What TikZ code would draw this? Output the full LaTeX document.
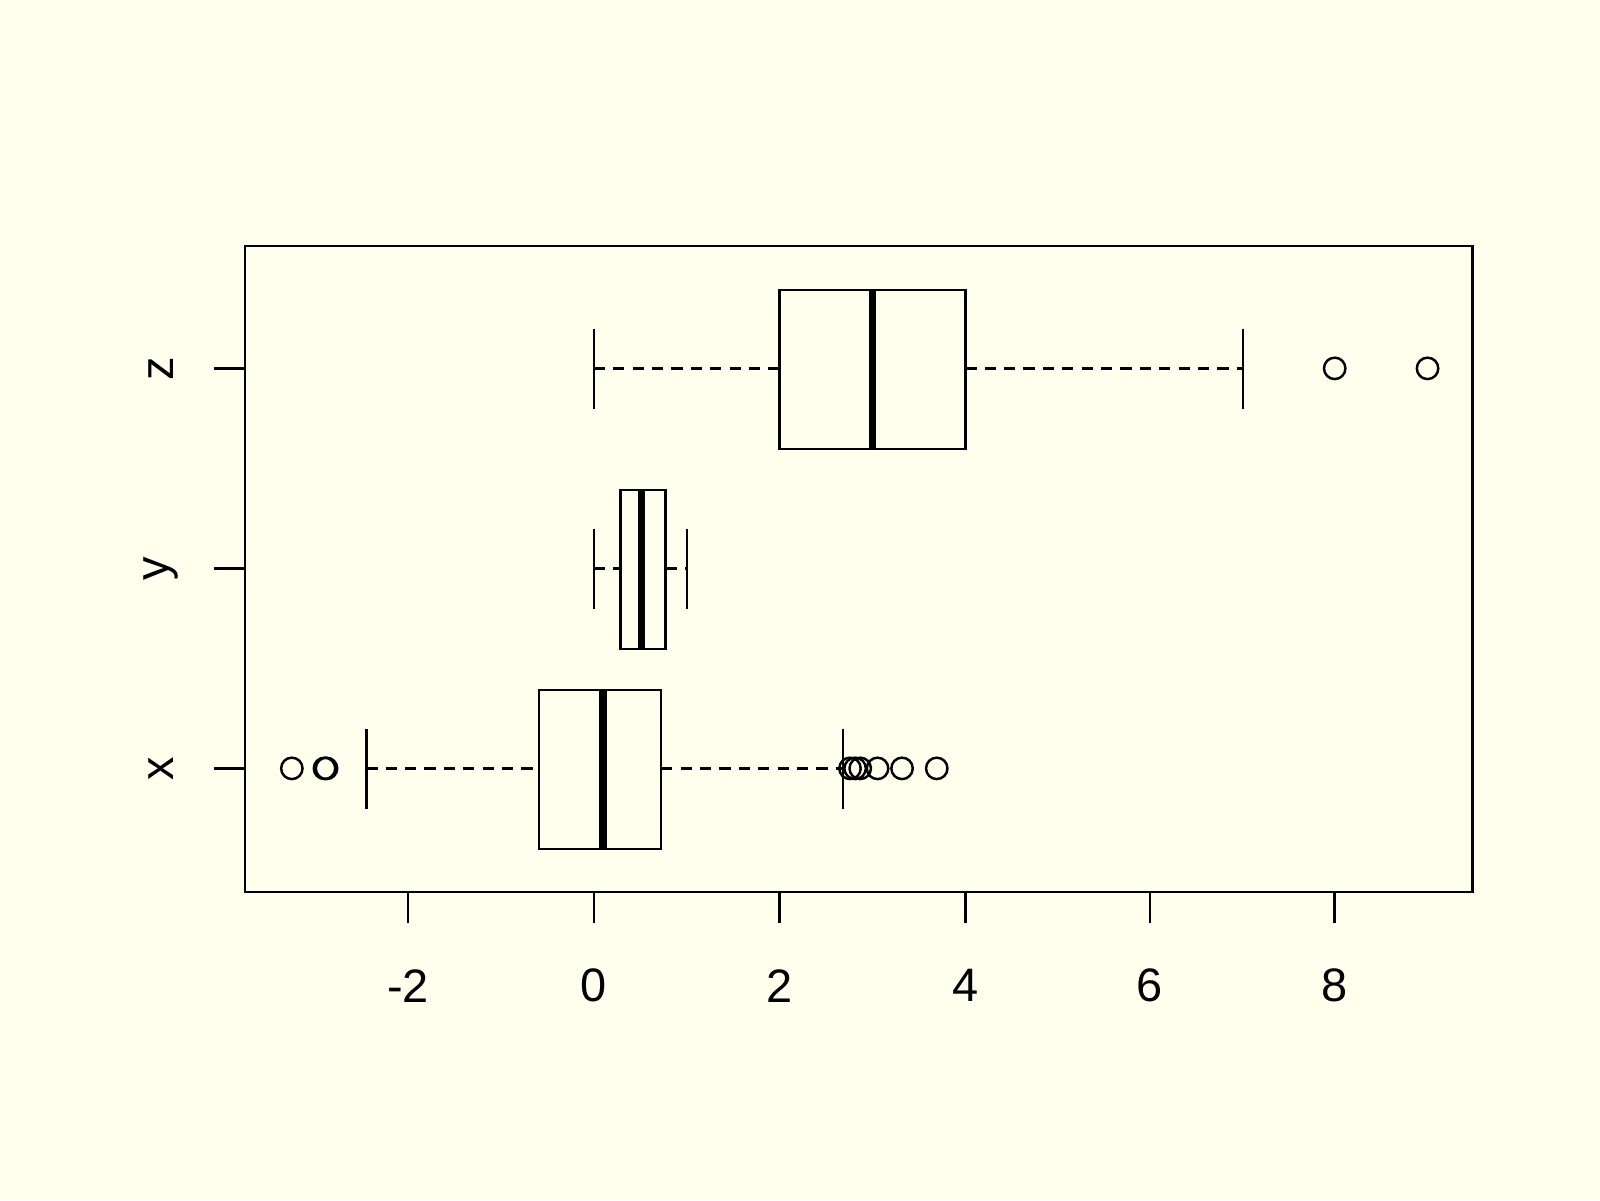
\documentclass[tikz,border=0pt]{standalone}
\usepackage{fontspec}
\setmainfont{Liberation Sans}
\definecolor{bg}{RGB}{255,255,238}
\begin{document}
\begin{tikzpicture}[x=1pt,y=-1pt,line width=2.4pt,
  lab/.style={font=\fontsize{46}{50}\selectfont,inner sep=0pt},
  wh/.style={dash pattern=on 11pt off 8pt},
  med/.style={line width=7pt},
  pt/.style={line width=2.4pt}]
\fill[bg] (0,0) rectangle (1568,1176);
\useasboundingbox (0,0) rectangle (1568,1176);
\draw (240,241) rectangle (1443,874);
% x axis
\foreach \v/\p in {-2/400,0/582,2/764,4/946,6/1127,8/1308}{
  \draw (\p,874) -- (\p,905);
  \node[lab] at (\p,966) {\v};
}
\foreach \n/\yy in {z/361,y/557,x/753}{
  \draw (240,\yy) -- (210,\yy);
  \node[lab,rotate=90] at (158,\yy) {\n};
}
% z
\draw[wh] (582,361) -- (764,361);
\draw[wh] (946,361) -- (1218,361);
\draw (582,322) -- (582,401);
\draw (1218,322) -- (1218,401);
\draw (764,284) rectangle (946,440);
\draw[med] (855,284) -- (855,440);
\foreach \p in {1308,1399} \draw[pt] (\p,361) circle (10.5);
% y
\draw[wh] (582,557) -- (608,557);
\draw[wh] (652,557) -- (673,557);
\draw (582,518) -- (582,597);
\draw (673,518) -- (673,597);
\draw (608,480) rectangle (652,636);
\draw[med] (629,480) -- (629,636);
% x
\draw[wh] (359,753) -- (528,753);
\draw[wh] (648,753) -- (826,753);
\draw (359,714) -- (359,793);
\draw (826,714) -- (826,793);
\draw (528,676) rectangle (648,832);
\draw[med] (591,676) -- (591,832);
\foreach \p in {286,318,320,833,838,843,860,884,918} \draw[pt] (\p,753) circle (10.5);
\end{tikzpicture}
\end{document}
